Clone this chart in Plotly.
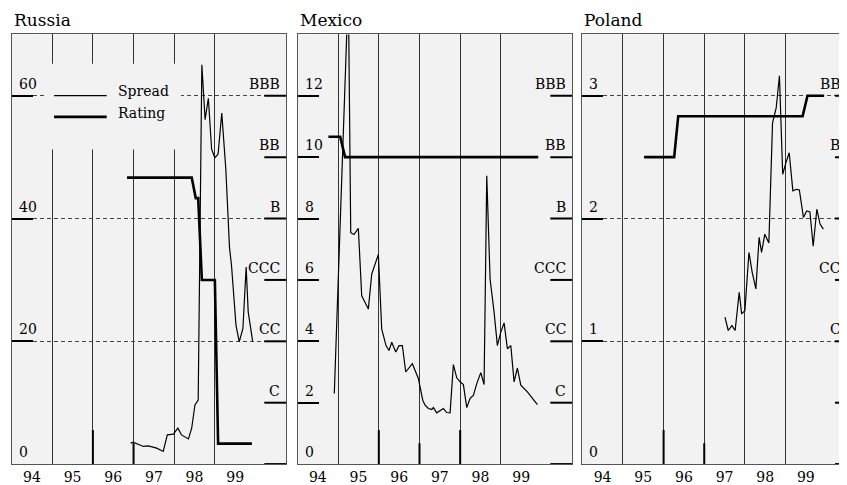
import plotly.graph_objects as go

FONT = "DejaVu Serif"

# ---------------- data ----------------
year_labels = ["94", "95", "96", "97", "98", "99"]
rating_labels = ["C", "CC", "CCC", "B", "BB", "BBB"]  # grade 1..6

russia_t = [1996.93, 1996.99, 1997.24, 1997.36, 1997.57, 1997.73, 1997.83, 1997.98, 1998.09, 1998.18,
            1998.35, 1998.43, 1998.51, 1998.59, 1998.68, 1998.76, 1998.84, 1998.92, 1999.00, 1999.08,
            1999.17, 1999.27, 1999.36, 1999.41, 1999.52, 1999.60, 1999.69, 1999.77, 1999.82, 1999.93]
russia_spread = [3.41, 3.57, 2.87, 2.97, 2.60, 2.06, 4.75, 4.87, 5.84, 4.75,
                 4.10, 5.84, 9.62, 10.43, 65.05, 56.1, 59.6, 51.3, 49.9, 50.5,
                 57.2, 48.0, 35.3, 32.3, 22.6, 19.9, 22.1, 32.1, 24.8, 20.0]
russia_rating_t = [1996.84, 1998.43, 1998.53, 1998.59, 1998.68, 1999.00, 1999.08, 1999.91]
russia_rating = [4.667, 4.667, 4.333, 4.333, 3.0, 3.0, 0.333, 0.333]

mexico_t = [1994.905, 1995.25, 1995.309, 1995.390, 1995.496, 1995.579, 1995.742, 1995.825, 1995.988, 1996.071,
            1996.177, 1996.251, 1996.317, 1996.416, 1996.497, 1996.578, 1996.662, 1996.824, 1996.972, 1997.080,
            1997.137, 1997.218, 1997.301, 1997.341, 1997.424, 1997.506, 1997.587, 1997.670, 1997.752, 1997.833,
            1997.916, 1997.998, 1998.079, 1998.162, 1998.244, 1998.325, 1998.408, 1998.507, 1998.588, 1998.654,
            1998.736, 1998.834, 1998.915, 1998.999, 1999.080, 1999.161, 1999.245, 1999.326, 1999.407, 1999.491,
            1999.653, 1999.899]
mexico_spread = [2.30, 15.5, 7.54, 7.48, 7.68, 5.48, 5.05, 6.19, 6.83, 4.40,
                 3.86, 3.70, 3.97, 3.65, 3.86, 3.86, 3.00, 3.27, 2.79, 2.08,
                 1.92, 1.81, 1.78, 1.84, 1.67, 1.73, 1.81, 1.68, 1.67, 3.24,
                 2.81, 2.68, 2.59, 1.84, 2.14, 2.24, 2.62, 2.98, 2.59, 9.39,
                 6.02, 4.95, 3.86, 4.30, 4.60, 3.76, 3.86, 2.68, 3.13, 2.57,
                 2.35, 1.94]
mexico_rating_t = [1994.76, 1995.05, 1995.17, 1999.92]
mexico_rating = [5.333, 5.333, 5.0, 5.0]

poland_t = [1997.51, 1997.59, 1997.68, 1997.76, 1997.86, 1997.92, 1998.00, 1998.10, 1998.18, 1998.27,
            1998.35, 1998.41, 1998.49, 1998.59, 1998.68, 1998.77, 1998.85, 1998.93, 1999.01, 1999.09,
            1999.18, 1999.27, 1999.34, 1999.44, 1999.52, 1999.60, 1999.68, 1999.77, 1999.85, 1999.93]
poland_spread = [1.197, 1.088, 1.128, 1.088, 1.399, 1.224, 1.250, 1.724, 1.562, 1.427,
                 1.847, 1.725, 1.873, 1.800, 2.779, 2.901, 3.163, 2.360, 2.455, 2.536,
                 2.225, 2.238, 2.233, 2.009, 2.062, 2.054, 1.774, 2.076, 1.955, 1.914]
poland_rating_t = [1995.52, 1996.26, 1996.36, 1999.42, 1999.54, 1999.95]
poland_rating = [5.0, 5.0, 5.667, 5.667, 6.0, 6.0]

panels = [
    dict(name="Russia", t=russia_t, s=russia_spread, rt=russia_rating_t, r=russia_rating,
         scale=10, ymax=70, left_ticks=[0, 20, 40, 60], dashed=True, xend=2000.75,
         dom=(11.6, 286.0), stubs=[(1996, 0.0795), (1997, 0.0487)]),
    dict(name="Mexico", t=mexico_t, s=mexico_spread, rt=mexico_rating_t, r=mexico_rating,
         scale=2, ymax=14, left_ticks=[0, 2, 4, 6, 8, 10, 12], dashed=False, xend=2000.75,
         dom=(297.5, 572.0), stubs=[(1996, 0.0795), (1997, 0.0487), (1998, 0.0795)]),
    dict(name="Poland", t=poland_t, s=poland_spread, rt=poland_rating_t, r=poland_rating,
         scale=0.5, ymax=3.5, left_ticks=[0, 1, 2, 3], dashed=True, xend=2000.512,
         dom=(582.3, 847.0), stubs=[(1996, 0.0795), (1997, 0.0487)]),
]

# page has an 8px body margin: figure covers the rest of the 847x485 window
OX, OY = 8, 8
W, H = 847 - OX, 485 - OY
FULL_END = 2000.75
YDOM = [1 - (466 - OY) / H, 1 - (34.5 - OY) / H]
LBL = 14

fig = go.Figure()
shapes = []
annotations = []
layout = {}

for i, p in enumerate(panels):
    n = "" if i == 0 else str(i + 1)
    xa, ya = "x" + n, "y" + n
    d0, d1 = (p["dom"][0] - OX) / W, (p["dom"][1] - OX) / W
    x0 = 1994.0

    def paper_x(year, d0=d0, d1=d1, xend=p["xend"]):
        return d0 + (d1 - d0) * (year - x0) / (xend - x0)

    def dom_x(year, xend=p["xend"]):
        return (year - x0) / (xend - x0)

    fig.add_trace(go.Scatter(x=p["t"], y=p["s"], mode="lines", xaxis=xa, yaxis=ya,
                             line=dict(color="black", width=1.2), showlegend=False,
                             name="Spread"))
    fig.add_trace(go.Scatter(x=p["rt"], y=[g * p["scale"] for g in p["r"]], mode="lines",
                             xaxis=xa, yaxis=ya, line=dict(color="black", width=2.6),
                             showlegend=False, name="Rating"))

    layout["xaxis" + n] = dict(
        domain=[d0, d1], range=[x0, p["xend"]], anchor=ya,
        tickmode="array", tickvals=[1994.5 + k for k in range(6)], ticktext=year_labels,
        ticks="", showgrid=False, zeroline=False,
        minor=dict(tickmode="array", tickvals=[1995, 1996, 1997, 1998, 1999],
                   showgrid=True, gridcolor="#333333", gridwidth=1, ticks=""),
        showline=True, mirror=True, linecolor="#555555", linewidth=1,
        tickfont=dict(family=FONT, size=LBL, color="black"), fixedrange=True)
    layout["yaxis" + n] = dict(
        domain=YDOM, range=[0, p["ymax"]], anchor=xa,
        tickmode="array", tickvals=p["left_ticks"], showticklabels=False,
        ticks="inside", ticklen=21, tickwidth=2, tickcolor="black",
        showgrid=p["dashed"], gridcolor="#444444", gridwidth=1, griddash="4px,3px",
        zeroline=False, showline=True, mirror=(i < 2), linecolor="#555555", linewidth=1,
        fixedrange=True)

    # title
    annotations.append(dict(text=p["name"], xref=xa + " domain", yref=ya + " domain",
                            x=0, y=1, xanchor="left", yanchor="bottom", yshift=2.5,
                            showarrow=False, font=dict(family=FONT, size=17, color="black")))
    # left tick labels
    for v in p["left_ticks"]:
        annotations.append(dict(text=f"{v:g}", xref=xa + " domain", yref=ya, x=0, y=v,
                                xanchor="left", yanchor="bottom", xshift=5, yshift=2,
                                showarrow=False, font=dict(family=FONT, size=LBL, color="black")))
    # right rating scale
    rx = paper_x(FULL_END)
    for v in [0] + [g * p["scale"] for g in range(1, 7)]:
        shapes.append(dict(type="line", xref=xa + " domain", yref=ya,
                           x0=dom_x(FULL_END - 0.534), x1=dom_x(FULL_END), y0=v, y1=v,
                           line=dict(color="black", width=2)))
    for g, lab in enumerate(rating_labels, start=1):
        annotations.append(dict(text=lab, xref="paper", yref=ya, x=rx, y=g * p["scale"],
                                xanchor="right", yanchor="bottom", xshift=-4, yshift=2,
                                showarrow=False, font=dict(family=FONT, size=LBL, color="black")))
    # short heavy stubs at bottom of some year lines
    for yr, h in p["stubs"]:
        shapes.append(dict(type="line", xref=xa, yref=ya + " domain", x0=yr, x1=yr, y0=0, y1=h,
                           line=dict(color="black", width=2)))

    if i == 0:
        # legend box (manual)
        def fx(px):
            return (px - p["dom"][0]) / (p["dom"][1] - p["dom"][0])

        def fy(py):
            return (466 - py) / 431.5

        shapes.append(dict(type="rect", xref=xa + " domain", yref=ya + " domain",
                           x0=fx(47), x1=fx(181), y0=fy(150), y1=fy(64),
                           fillcolor="#f2f2f2", line=dict(width=0), layer="above"))
        shapes.append(dict(type="line", xref=xa + " domain", yref=ya + " domain",
                           x0=fx(54), x1=fx(106.7), y0=fy(96), y1=fy(96),
                           line=dict(color="black", width=1.3), layer="above"))
        shapes.append(dict(type="line", xref=xa + " domain", yref=ya + " domain",
                           x0=fx(54), x1=fx(106.7), y0=fy(117.3), y1=fy(117.3),
                           line=dict(color="black", width=2.6), layer="above"))
        annotations.append(dict(text="Spread", xref=xa + " domain", yref=ya + " domain",
                                x=fx(115.5), y=fy(91.5), xanchor="left", yanchor="middle",
                                showarrow=False, font=dict(family=FONT, size=LBL, color="black")))
        annotations.append(dict(text="Rating", xref=xa + " domain", yref=ya + " domain",
                                x=fx(115.5), y=fy(113.5), xanchor="left", yanchor="middle",
                                showarrow=False, font=dict(family=FONT, size=LBL, color="black")))

fig.update_layout(
    width=W, height=H, margin=dict(l=0, r=0, t=0, b=0),
    paper_bgcolor="white", plot_bgcolor="#f2f2f2",
    showlegend=False, shapes=shapes, annotations=annotations,
    font=dict(family=FONT, size=LBL, color="black"),
    **layout)

fig.write_html("out.html")
